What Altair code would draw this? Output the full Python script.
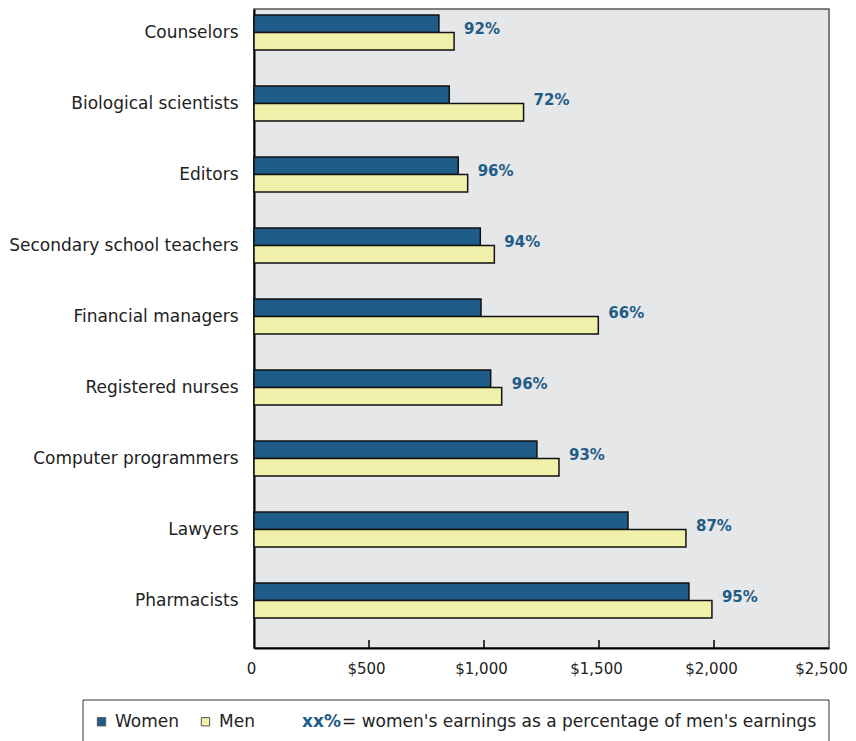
import altair as alt
import pandas as pd

occupations = ["Counselors", "Biological scientists", "Editors", "Secondary school teachers",
               "Financial managers", "Registered nurses", "Computer programmers", "Lawyers", "Pharmacists"]
women = [804, 849, 888, 984, 987, 1029, 1230, 1626, 1891]
men = [870, 1172, 929, 1045, 1497, 1077, 1326, 1878, 1991]
pct_labels = ["92%", "72%", "96%", "94%", "66%", "96%", "93%", "87%", "95%"]
series = ["Women", "Men"]
series_colors = ["#1f5c87", "#f1f0aa"]
x_ticks = [500, 1000, 1500, 2000]
x_label_values = [0, 500, 1000, 1500, 2000, 2500]
note_key = "xx%"
note_text = "= women's earnings as a percentage of men's earnings"

rows = []
for o, w, m in zip(occupations, women, men):
    rows.append({"occupation": o, "sex": "Women", "value": w})
    rows.append({"occupation": o, "sex": "Men", "value": m})
bars_df = pd.DataFrame(rows)
pct_df = pd.DataFrame({"occupation": occupations, "men": men, "women": women,
                       "label": pct_labels, "sex": ["Women"] * len(occupations)})
pct_df["maxv"] = pct_df[["men", "women"]].max(axis=1)
ticks_df = pd.DataFrame({"v": x_ticks})

W, H = 575, 639
FONT = "DejaVu Sans"
BLUE = "#1f5c87"

xscale = alt.Scale(domain=[0, 2500], nice=False, zero=True)
yscale = alt.Scale(paddingInner=0.507, paddingOuter=0.2535, align=0.1667)
yoff_scale = alt.Scale(domain=series, paddingInner=0, paddingOuter=0)

y_enc = alt.Y("occupation:N", sort=occupations, scale=yscale,
              axis=alt.Axis(title=None, ticks=False, tickSize=0, labelPadding=16,
                            labelFontSize=17, labelFont=FONT, labelColor="#222222",
                            labelLimit=320, domainColor="#000000", domainWidth=2))
x_enc = alt.X("value:Q", scale=xscale,
              axis=alt.Axis(title=None, ticks=False, tickSize=0, grid=False, values=x_label_values,
                            labelExpr="datum.value == 0 ? '0' : '$' + format(datum.value, ',')",
                            labelFlush=False,
                            labelOffset={"condition": {"test": "datum.value == 2500", "value": -8},
                                         "value": -3},
                            labelPadding=13, labelFontSize=15, labelFont=FONT, labelColor="#222222",
                            domainColor="#000000", domainWidth=2))

bars = alt.Chart(bars_df).mark_bar(stroke="#111111", strokeWidth=1.5).encode(
    x=x_enc,
    y=y_enc,
    yOffset=alt.YOffset("sex:N", sort=series, scale=yoff_scale),
    color=alt.Color("sex:N", sort=series,
                    scale=alt.Scale(domain=series, range=series_colors),
                    legend=alt.Legend(orient="none", legendX=-161, legendY=704, direction="horizontal",
                                      title=None, symbolType="square", symbolSize=70,
                                      symbolStrokeColor="#555555", symbolStrokeWidth=1,
                                      labelFontSize=17, labelFont=FONT, labelColor="#222222",
                                      labelOffset=5, columnPadding=17, padding=0)),
)

labels = alt.Chart(pct_df).mark_text(align="left", baseline="middle", dx=10, dy=5,
                                     font=FONT, fontSize=15, fontWeight="bold", color=BLUE).encode(
    x=alt.X("maxv:Q", scale=xscale),
    y=alt.Y("occupation:N", sort=occupations, scale=yscale),
    yOffset=alt.YOffset("sex:N", sort=series, scale=yoff_scale),
    text="label:N",
)

ticks = alt.Chart(ticks_df).mark_rule(color="#000000", strokeWidth=1.5).encode(
    x=alt.X("v:Q", scale=xscale),
    y=alt.value(H - 8),
    y2=alt.value(H),
)

legend_box = alt.Chart(pd.DataFrame({"k": [0]})).mark_rect(
    fill="white", stroke="#333333", strokeWidth=1).encode(
    x=alt.value(-171), x2=alt.value(575), y=alt.value(691), y2=alt.value(745))

note_df = pd.DataFrame({"key": [note_key], "text": [note_text]})
note_key_mark = alt.Chart(note_df).mark_text(align="left", baseline="middle", font=FONT, fontSize=17,
                                             fontWeight="bold", color=BLUE).encode(
    x=alt.value(48), y=alt.value(713), text="key:N")
note_text_mark = alt.Chart(note_df).mark_text(align="left", baseline="middle", font=FONT, fontSize=17,
                                              color="#222222").encode(
    x=alt.value(88), y=alt.value(713), text="text:N")

chart = alt.layer(legend_box, bars, labels, ticks, note_key_mark, note_text_mark).properties(
    width=W, height=H,
    autosize=alt.AutoSizeParams(type="none"),
    padding={"left": 246, "top": 1, "right": 19, "bottom": 100},
).configure_view(fill="#e6e7e9", stroke="#555555", strokeWidth=1.5)

chart.save("out.html", embed_options={"renderer": "svg", "actions": False})
